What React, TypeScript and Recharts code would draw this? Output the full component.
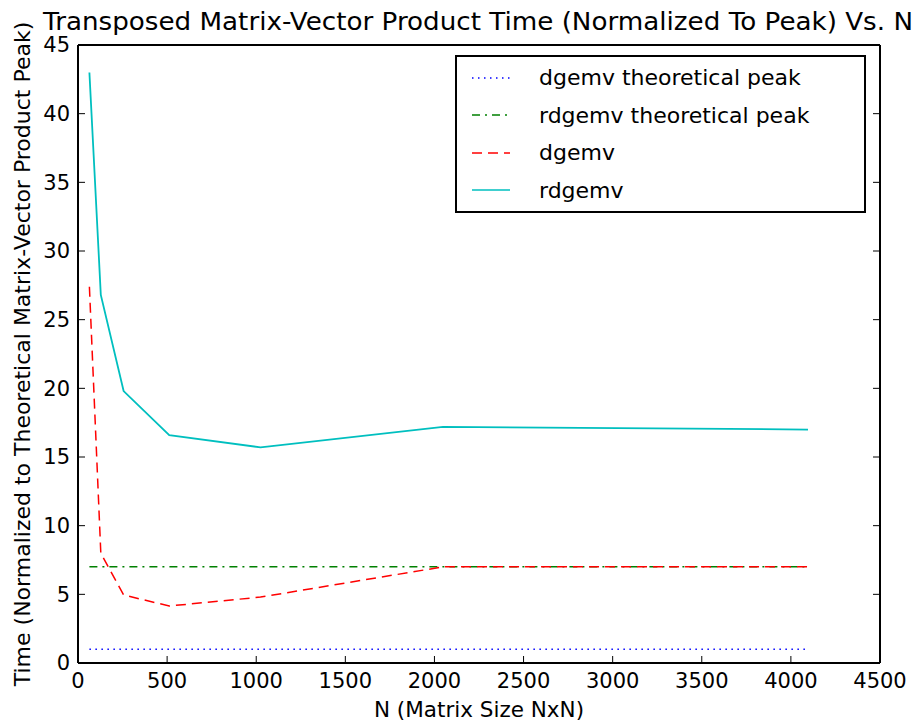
import { Label, Line, LineChart, XAxis, YAxis } from "recharts";

const sizes = [64, 128, 256, 512, 1024, 2048, 4096];
const dgemvPeak = [1, 1, 1, 1, 1, 1, 1];
const rdgemvPeak = [7, 7, 7, 7, 7, 7, 7];
const dgemv = [27.4, 8.0, 4.95, 4.15, 4.8, 7.0, 7.0];
const rdgemv = [43.0, 26.8, 19.8, 16.6, 15.7, 17.2, 17.0];

const xTicks = [0, 500, 1000, 1500, 2000, 2500, 3000, 3500, 4000, 4500];
const yTicks = [0, 5, 10, 15, 20, 25, 30, 35, 40, 45];

const data = sizes.map((n, i) => ({
  n,
  dgemvPeak: dgemvPeak[i],
  rdgemvPeak: rdgemvPeak[i],
  dgemv: dgemv[i],
  rdgemv: rdgemv[i],
}));

const series = [
  { key: "dgemvPeak", name: "dgemv theoretical peak", color: "#0000ff", dash: "1.5 4.5" },
  { key: "rdgemvPeak", name: "rdgemv theoretical peak", color: "#008000", dash: "8 5 2 5" },
  { key: "dgemv", name: "dgemv", color: "#ff0000", dash: "10 6" },
  { key: "rdgemv", name: "rdgemv", color: "#00bfbf", dash: undefined },
];

const FONT = "'DejaVu Sans', sans-serif";
const TICK_LEN = 7;

function BottomTick({ x, y, payload }: any) {
  return (
    <g>
      <line x1={x} y1={y} x2={x} y2={y - TICK_LEN} stroke="#000" strokeWidth={1} />
      <text x={x} y={y + 25} textAnchor="middle" fontSize={21} fontFamily={FONT} fill="#000">
        {payload.value}
      </text>
    </g>
  );
}

function LeftTick({ x, y, payload }: any) {
  return (
    <g>
      <line x1={x} y1={y} x2={x + TICK_LEN} y2={y} stroke="#000" strokeWidth={1} />
      <text x={x - 8} y={y} dy="0.35em" textAnchor="end" fontSize={21} fontFamily={FONT} fill="#000">
        {payload.value}
      </text>
    </g>
  );
}

function TopTick({ x, y }: any) {
  return <line x1={x} y1={y} x2={x} y2={y + TICK_LEN} stroke="#000" strokeWidth={1} />;
}

function RightTick({ x, y }: any) {
  return <line x1={x} y1={y} x2={x - TICK_LEN} y2={y} stroke="#000" strokeWidth={1} />;
}

function LegendBox() {
  return (
    <div
      style={{
        position: "absolute",
        left: 455,
        top: 55,
        border: "2px solid #000",
        background: "#fff",
        width: 411,
        height: 158,
        boxSizing: "border-box",
        padding: "2px 0 0 14px",
        fontFamily: FONT,
        fontSize: 22,
      }}
    >
      {series.map((s) => (
        <div key={s.key} style={{ display: "flex", alignItems: "center", height: 37.5 }}>
          <svg width={40} height={10} style={{ marginRight: 28 }}>
            <line x1={1} y1={5} x2={39} y2={5} stroke={s.color} strokeWidth={1.5} strokeDasharray={s.dash} />
          </svg>
          <span>{s.name}</span>
        </div>
      ))}
    </div>
  );
}

export default function App() {
  return (
    <div style={{ position: "fixed", top: 0, left: 0, width: 917, height: 721, background: "#fff" }}>
      <LineChart width={917} height={721} data={data} margin={{ top: 0, right: 0, bottom: 0, left: 0 }}>
        <XAxis
          dataKey="n"
          type="number"
          domain={[0, 4500]}
          ticks={xTicks}
          height={58}
          tickSize={0}
          tickMargin={0}
          tick={<BottomTick />}
          axisLine={{ stroke: "#000", strokeWidth: 2 }}
          interval={0}
        >
          <Label
            content={() => (
              <text x={479} y={717} textAnchor="middle" fontSize={21.5} fontFamily={FONT} fill="#000">
                N (Matrix Size NxN)
              </text>
            )}
          />
        </XAxis>
        <XAxis
          xAxisId="top"
          orientation="top"
          type="number"
          domain={[0, 4500]}
          ticks={xTicks}
          height={45}
          tickSize={0}
          tickMargin={0}
          tick={<TopTick />}
          axisLine={{ stroke: "#000", strokeWidth: 2 }}
          interval={0}
          allowDataOverflow
        >
          <Label
            content={() => (
              <text
                x={478}
                y={30}
                textAnchor="middle"
                fontSize={25}
                fontFamily={FONT}
                fill="#000"
                textLength={870}
                lengthAdjust="spacingAndGlyphs"
              >
                Transposed Matrix-Vector Product Time (Normalized To Peak) Vs. N
              </text>
            )}
          />
        </XAxis>
        <YAxis
          type="number"
          domain={[0, 45]}
          ticks={yTicks}
          width={78}
          tickSize={0}
          tickMargin={0}
          tick={<LeftTick />}
          axisLine={{ stroke: "#000", strokeWidth: 2 }}
          interval={0}
        >
          <Label
            content={() => (
              <text
                x={22}
                y={354}
                transform="rotate(-90 22 354)"
                dy="0.35em"
                textAnchor="middle"
                fontSize={22}
                fontFamily={FONT}
                fill="#000"
              >
                Time (Normalized to Theoretical Matrix-Vector Product Peak)
              </text>
            )}
          />
        </YAxis>
        <YAxis
          yAxisId="right"
          orientation="right"
          type="number"
          domain={[0, 45]}
          ticks={yTicks}
          width={37}
          tickSize={0}
          tickMargin={0}
          tick={<RightTick />}
          axisLine={{ stroke: "#000", strokeWidth: 2 }}
          interval={0}
          allowDataOverflow
        />
        {series.map((s) => (
          <Line
            key={s.key}
            dataKey={s.key}
            name={s.name}
            stroke={s.color}
            strokeWidth={s.dash ? 1.5 : 1.8}
            strokeDasharray={s.dash}
            dot={false}
            type="linear"
            isAnimationActive={false}
          />
        ))}
      </LineChart>
      <LegendBox />
    </div>
  );
}
